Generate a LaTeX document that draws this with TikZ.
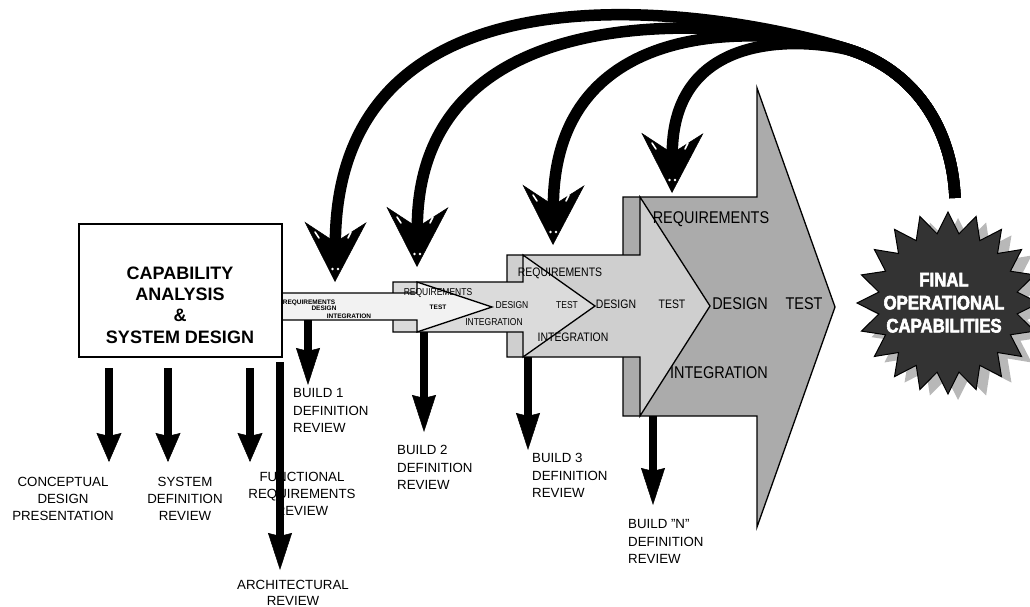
\documentclass[tikz,border=0pt]{standalone}
\usepackage{fontspec}
\setmainfont{Liberation Sans}
\newfontfamily\narrowsans[FakeStretch=0.85]{Liberation Sans}
\newfontfamily\starsans[FakeStretch=0.86,FakeBold=3]{Liberation Sans}
\usetikzlibrary{arrows.meta,shapes.geometric}

\begin{document}
\begin{tikzpicture}[x=1pt,y=-1pt,
  stage/.style={draw=black,line width=1.3pt,line join=miter},
  lblA/.style={font=\bfseries\fontsize{6.5}{7}\selectfont,inner sep=0,anchor=base},
  lblB/.style={font=\narrowsans\fontsize{10}{11}\selectfont,inner sep=0,anchor=base},
  lblC/.style={font=\narrowsans\fontsize{12.3}{13}\selectfont,inner sep=0,anchor=base},
  lblD/.style={font=\narrowsans\fontsize{17}{18}\selectfont,inner sep=0,anchor=base},
  review/.style={font=\fontsize{13.3}{16.8}\selectfont,align=center,inner sep=0,anchor=north},
  buildtxt/.style={font=\fontsize{13.3}{17.2}\selectfont,align=left,inner sep=0,anchor=north west},
  shortdown/.style={line width=7.5pt,-{Stealth[length=29pt,width=25pt,inset=3pt,line width=0.5pt]}},
  longdown/.style={line width=7.5pt,-{Stealth[length=37pt,width=24pt,inset=3pt,line width=0.5pt]}},
  feedback/.style={line width=11.5pt,-{Stealth[length=60pt,width=62pt,inset=20pt,line width=0.5pt]}},
  speck/.style={white,line width=1.6pt,line cap=round},
]
\useasboundingbox (0,0) rectangle (1030,607);

% ---- the growing build arrows, largest at the back ----
\fill[black!33,stage] (623,197) -- (757,197) -- (757,88) -- (835,307) -- (757,527)
  -- (757,416) -- (623,416) -- cycle;
\fill[black!19,stage] (507,255) -- (640,255) -- (640,197) -- (710,306) -- (640,416)
  -- (640,357) -- (507,357) -- cycle;
\fill[black!14,stage] (393,282) -- (523,282) -- (523,255) -- (595,306) -- (523,357)
  -- (523,332) -- (393,332) -- cycle;
\fill[black!5,stage] (282,293) -- (417,293) -- (417,282) -- (492,307) -- (417,332)
  -- (417,320) -- (282,320) -- cycle;

% ---- capability box ----
\node[draw=black,line width=1.3pt,fill=white,minimum width=203pt,minimum height=133pt,inner sep=0]
  (capbox) at (180.5,290.5) {};
\node[font=\bfseries\fontsize{18}{21.3}\selectfont,align=center,inner sep=0,anchor=north]
  (captext) at (180,266.5) {CAPABILITY\\ANALYSIS\\\&\\SYSTEM DESIGN};

% ---- labels inside the build arrows ----
\node[lblA] (b1req) at (309,304) {REQUIREMENTS};
\node[lblA] (b1des) at (324,310) {DESIGN};
\node[lblA] (b1int) at (349,318) {INTEGRATION};
\node[lblA] (b1tst) at (438,309.3) {TEST};

\node[lblB] (b2req) at (438,295.6) {REQUIREMENTS};
\node[lblB] (b2des) at (512,308.6) {DESIGN};
\node[lblB] (b2tst) at (567,308.6) {TEST};
\node[lblB] (b2int) at (494,325.6) {INTEGRATION};

\node[lblC] (b3req) at (560,276.4) {REQUIREMENTS};
\node[lblC] (b3des) at (616,308.4) {DESIGN};
\node[lblC] (b3tst) at (672,308.4) {TEST};
\node[lblC] (b3int) at (573,341.4) {INTEGRATION};

\node[lblD] (b4req) at (711,223) {REQUIREMENTS};
\node[lblD] (b4des) at (740,309) {DESIGN};
\node[lblD] (b4tst) at (804,309) {TEST};
\node[lblD] (b4int) at (719,378) {INTEGRATION};

% ---- review labels ----
\node[review] (cdp) at (63,477.5) {CONCEPTUAL\\DESIGN\\PRESENTATION};
\node[review] (sdr) at (185,477.5) {SYSTEM\\DEFINITION\\REVIEW};
\node[review] (frr) at (302,472.5) {FUNCTIONAL\\REQUIREMENTS\\REVIEW};
\node[review,font=\fontsize{13.3}{15.5}\selectfont] (arr) at (293,580.5) {ARCHITECTURAL\\REVIEW};
\node[buildtxt] (bd1) at (293,388.5) {BUILD 1\\DEFINITION\\REVIEW};
\node[buildtxt] (bd2) at (397,445.5) {BUILD 2\\DEFINITION\\REVIEW};
\node[buildtxt] (bd3) at (532,453.5) {BUILD 3\\DEFINITION\\REVIEW};
\node[buildtxt] (bdn) at (628,519.5) {BUILD "N"\\DEFINITION\\REVIEW};

% ---- review arrows ----
\coordinate (cdpS) at (109,368); \coordinate (cdpT) at (109,462);
\coordinate (sdrS) at (168,368); \coordinate (sdrT) at (168,462);
\coordinate (frrS) at (250,368); \coordinate (frrT) at (250,462);
\coordinate (arrS) at (280,362); \coordinate (arrT) at (280,570);
\coordinate (bd1S) at (308,320); \coordinate (bd1T) at (308,385);
\coordinate (bd2S) at (424,332); \coordinate (bd2T) at (424,432);
\coordinate (bd3S) at (528,357); \coordinate (bd3T) at (528,450);
\coordinate (bdnS) at (653,416); \coordinate (bdnT) at (653,505);
\draw[shortdown] (cdpS) -- (cdpT);
\draw[shortdown] (sdrS) -- (sdrT);
\draw[shortdown] (frrS) -- (frrT);
\draw[longdown] (arrS) -- (arrT);
\draw[longdown] (bd1S) -- (bd1T);
\draw[longdown] (bd2S) -- (bd2T);
\draw[longdown] (bd3S) -- (bd3T);
\draw[longdown] (bdnS) -- (bdnT);

% ---- final capabilities burst ----
\node[star,star points=20,star point ratio=1.3,minimum size=182pt,inner sep=0,fill=black!28]
  (finalshade) at (958,309) {};
\node[star,star points=20,star point ratio=1.3,minimum size=182pt,inner sep=0,
  draw=black,line width=1pt,fill=black!80] (final) at (948,303) {};
\node[font=\starsans\bfseries\fontsize{19.5}{23}\selectfont,text=white,align=center,anchor=north,inner sep=0]
  (finaltext) at (944,272.8) {FINAL\\OPERATIONAL\\CAPABILITIES};

% ---- feedback arrows from the final capabilities back into each build ----
% they leave the burst as one band and part near the top
\coordinate (loopstart) at (955,198);
\coordinate (split) at (850,50);
\coordinate (tipA) at (335,282);
\coordinate (tipB) at (417,267);
\coordinate (tipC) at (553,245);
\coordinate (tipD) at (672,193);
\draw[feedback] (loopstart) .. controls (952,125) and (912,70) .. (split)
  .. controls (762,20) and (338,-70) .. (tipA);
\draw[feedback] (loopstart) .. controls (952,125) and (912,70) .. (split)
  .. controls (772,24) and (419,-25) .. (tipB);
\draw[feedback] (loopstart) .. controls (952,125) and (912,70) .. (split)
  .. controls (782,28) and (555,5) .. (tipC);
\draw[feedback] (loopstart) .. controls (952,125) and (912,70) .. (split)
  .. controls (792,36) and (673,35) .. (tipD);

% small light flecks on the feedback arrowheads
\foreach \t in {tipA,tipB,tipC,tipD}{
  \fill[white] ([shift={(-2.5,-13)}]\t) circle (1.3pt);
  \fill[white] ([shift={(3,-13)}]\t) circle (1.3pt);
  \draw[speck] ([shift={(-20,-50)}]\t) -- ([shift={(-16,-44)}]\t);
  \draw[speck] ([shift={(16,-50)}]\t) -- ([shift={(13,-44)}]\t);
}
\end{tikzpicture}
\end{document}
